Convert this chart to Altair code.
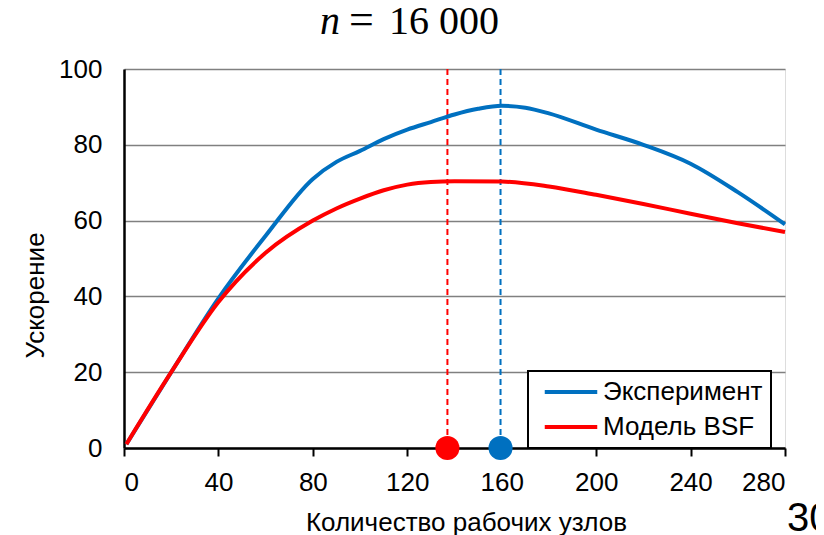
import altair as alt
import pandas as pd

# ---- data ----
series = ["Эксперимент", "Модель BSF"]
colors = ["#0070C0", "#FF0000"]

x_exp = [1, 20, 40, 60, 80, 90, 100, 110, 120, 130, 140, 150, 160, 170, 180, 200, 220, 240, 260, 280]
y_exp = [1, 20, 39.5, 56, 71, 75.5, 78.4, 81.5, 84, 86, 88, 89.5, 90.3, 89.8, 88.3, 84, 80, 75, 67.5, 59]

x_bsf = [1, 20, 40, 60, 80, 90, 100, 110, 120, 130, 140, 160, 180, 200, 220, 240, 260, 280]
y_bsf = [1, 20, 38.5, 51.5, 60, 63.2, 65.8, 68.0, 69.5, 70.2, 70.4, 70.3, 69, 66.8, 64.4, 61.8, 59.3, 57]

peak_x = [159.5, 137]          # optimum node counts (experiment, model)
x_ticks = [0, 40, 80, 120, 160, 200, 240, 280]
y_ticks = [0, 20, 40, 60, 80, 100]

title_n = "n"
title_eq = "="
title_num = "16 000"
slide_no = "30"

# ---- tables ----
lines_df = pd.concat([
    pd.DataFrame({"x": x_exp, "y": y_exp, "s": series[0]}),
    pd.DataFrame({"x": x_bsf, "y": y_bsf, "s": series[1]}),
], ignore_index=True)
peaks_df = pd.DataFrame({"x": peak_x, "y": [0, 0], "s": series})

W, H = 661, 379
FS = 26

xscale = alt.Scale(domain=[0, 280], nice=False)
yscale = alt.Scale(domain=[0, 100], nice=False)
cscale = alt.Scale(domain=series, range=colors)

xaxis = alt.Axis(values=x_ticks, grid=False, title="Количество рабочих узлов",
                 tickSize=8, tickColor="black", tickWidth=2,
                 domainColor="black", domainWidth=2.5,
                 labelFontSize=FS, labelPadding=13, labelColor="black",
                 titleFontSize=FS, titleFontWeight="normal", titleColor="black",
                 titleX=342, titleY=82, titleBaseline="alphabetic")
yaxis = alt.Axis(values=y_ticks, grid=True, gridColor="#808080", gridWidth=1.5,
                 ticks=False, domainColor="black", domainWidth=2.5,
                 labelFontSize=FS, labelPadding=22, labelColor="black",
                 title="Ускорение", titleFontSize=FS, titleFontWeight="normal",
                 titleColor="black", titleX=-89, titleY=226,
                 titleBaseline="middle", titleAlign="center", titleAngle=-90)

lines = alt.Chart(lines_df).mark_line(strokeWidth=4, interpolate="monotone").encode(
    x=alt.X("x:Q", scale=xscale, axis=xaxis),
    y=alt.Y("y:Q", scale=yscale, axis=yaxis),
    color=alt.Color("s:N", scale=cscale, sort=series,
                    legend=alt.Legend(
                        title=None, orient="none", legendX=404, legendY=302,
                        symbolType="M-3.5,0H3.5", symbolSize=225,
                        symbolStrokeWidth=4, symbolOffset=22,
                        labelOffset=19, labelFontSize=FS, labelColor="black",
                        rowPadding=9, padding=8,
                        strokeColor="black", fillColor="white")),
)

rules = alt.Chart(peaks_df).mark_rule(strokeDash=[6, 4], strokeWidth=2).encode(
    x=alt.X("x:Q", scale=xscale),
    color=alt.Color("s:N", scale=cscale, legend=None),
)

dots = alt.Chart(peaks_df).mark_circle(size=580, opacity=1).encode(
    x=alt.X("x:Q", scale=xscale),
    y=alt.Y("y:Q", scale=yscale),
    color=alt.Color("s:N", scale=cscale, legend=None),
)

one = alt.Data(values=[{"k": 1}])
def label(txt, x, y, size, font, style="normal"):
    return alt.Chart(one).mark_text(text=txt, font=font, fontStyle=style,
                                    fontSize=size, align="left", baseline="alphabetic",
                                    color="black").encode(x=alt.value(x), y=alt.value(y))

t_n = label(title_n, 196, -35, 40, "Liberation Serif", "italic")
t_eq = label(title_eq, 225, -35, 44, "Liberation Serif")
t_num = label(title_num, 265, -35, 40, "Liberation Serif")
t_slide = label(slide_no, 663, 462, 40, "Liberation Sans")

chart = alt.layer(rules, lines, dots, t_n, t_eq, t_num, t_slide).resolve_legend(
    color="independent"
).properties(
    width=W, height=H,
    autosize=alt.AutoSizeParams(type="none"),
    padding={"left": 116, "top": 61, "right": 31, "bottom": 87},
).configure_view(
    stroke="black", strokeWidth=2.5
).configure(
    font="Liberation Sans", background="white"
).configure_legend(
    strokeWidth=2
)

chart.save("out.html", embed_options={"renderer": "svg", "actions": False})
